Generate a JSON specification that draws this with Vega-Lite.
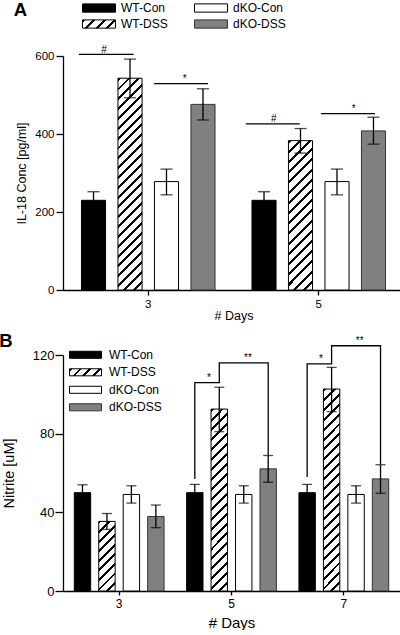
{
"$schema": "https://vega.github.io/schema/vega-lite/v6.json",
"padding": {"left": -1, "top": 0, "right": 0, "bottom": 0},
"spacing": 9,
"config": {
 "view": {"stroke": null},
 "font": "Liberation Sans",
 "axis": {"grid": false, "domainColor": "#000", "tickColor": "#000", "labelColor": "#000", "titleColor": "#000", "titleFontWeight": "normal", "domainWidth": 1.3, "tickWidth": 1.3},
 "legend": {"labelColor": "#000"},
 "title": {"fontWeight": "bold", "fontSize": 18.5, "anchor": "start", "color": "#000"}
},
"datasets": {
 "a_bars": [
  {"day":"3","group":"WT-Con","mean":230,"lo":208,"hi":252},
  {"day":"3","group":"WT-DSS","mean":543,"lo":493,"hi":592},
  {"day":"3","group":"dKO-Con","mean":278,"lo":244,"hi":310},
  {"day":"3","group":"dKO-DSS","mean":476,"lo":436,"hi":516},
  {"day":"5","group":"WT-Con","mean":230,"lo":208,"hi":252},
  {"day":"5","group":"WT-DSS","mean":383,"lo":351,"hi":414},
  {"day":"5","group":"dKO-Con","mean":278,"lo":244,"hi":310},
  {"day":"5","group":"dKO-DSS","mean":408,"lo":374,"hi":443}
 ],
 "a_br": [
  {"day":"3","id":"a1","pos":0.1,"level":604,"ord":0},{"day":"3","id":"a1","pos":1.6,"level":604,"ord":1},
  {"day":"3","id":"a2","pos":2.16,"level":529,"ord":0},{"day":"3","id":"a2","pos":3.64,"level":529,"ord":1},
  {"day":"5","id":"a3","pos":0.0,"level":426,"ord":0},{"day":"5","id":"a3","pos":1.48,"level":426,"ord":1},
  {"day":"5","id":"a4","pos":2.06,"level":452,"ord":0},{"day":"5","id":"a4","pos":3.54,"level":452,"ord":1}
 ],
 "a_lab": [
  {"day":"3","pos":0.79,"level":604,"label":"#"},
  {"day":"3","pos":3.0,"level":529,"label":"*"},
  {"day":"5","pos":0.77,"level":426,"label":"#"},
  {"day":"5","pos":2.96,"level":452,"label":"*"}
 ],
 "b_bars": [
  {"day":"3","group":"WT-Con","mean":50,"lo":46,"hi":54},
  {"day":"3","group":"WT-DSS","mean":35.4,"lo":31.3,"hi":39.4},
  {"day":"3","group":"dKO-Con","mean":49.1,"lo":44.7,"hi":53.5},
  {"day":"3","group":"dKO-DSS","mean":37.9,"lo":32.2,"hi":43.7},
  {"day":"5","group":"WT-Con","mean":50,"lo":46,"hi":54.2},
  {"day":"5","group":"WT-DSS","mean":92.5,"lo":81,"hi":103.6},
  {"day":"5","group":"dKO-Con","mean":49.1,"lo":44.7,"hi":53.5},
  {"day":"5","group":"dKO-DSS","mean":62.1,"lo":55.3,"hi":68.9},
  {"day":"7","group":"WT-Con","mean":50,"lo":46,"hi":54.2},
  {"day":"7","group":"WT-DSS","mean":102.7,"lo":91.2,"hi":113.7},
  {"day":"7","group":"dKO-Con","mean":49.1,"lo":44.7,"hi":53.5},
  {"day":"7","group":"dKO-DSS","mean":57,"lo":49.7,"hi":64.2}
 ],
 "b_br": [
  {"day":"5","id":"b1","pos":0.5,"level":57,"ord":0},{"day":"5","id":"b1","pos":0.5,"level":106,"ord":1},
  {"day":"5","id":"b1","pos":1.5,"level":106,"ord":2},{"day":"5","id":"b1","pos":1.5,"level":116,"ord":3},
  {"day":"5","id":"b1","pos":3.5,"level":116,"ord":4},{"day":"5","id":"b1","pos":3.5,"level":69,"ord":5},
  {"day":"7","id":"b2","pos":0.5,"level":58,"ord":0},{"day":"7","id":"b2","pos":0.5,"level":115.5,"ord":1},
  {"day":"7","id":"b2","pos":1.5,"level":115.5,"ord":2},{"day":"7","id":"b2","pos":1.5,"level":124.7,"ord":3},
  {"day":"7","id":"b2","pos":3.5,"level":124.7,"ord":4},{"day":"7","id":"b2","pos":3.5,"level":64.5,"ord":5}
 ],
 "b_lab": [
  {"day":"5","pos":1.08,"level":106,"label":"*"},
  {"day":"5","pos":2.67,"level":116,"label":"**"},
  {"day":"7","pos":1.06,"level":115.5,"label":"*"},
  {"day":"7","pos":2.65,"level":124.7,"label":"**"}
 ]
},
"resolve": {"scale": {"fill": "independent", "stroke": "independent", "xOffset": "independent"}, "legend": {"fill": "independent", "stroke": "independent"}},
"vconcat": [
 {
  "title": {"text": "A", "dy": 21, "dx": -2},
  "width": 341,
  "height": 234,
  "resolve": {"scale": {"xOffset": "independent"}},
  "layer": [
   {
    "data": {"name": "a_bars"},
    "mark": {"type": "bar", "strokeWidth": 1},
    "encoding": {
     "x": {"field": "day", "type": "nominal", "title": "# Days", "scale": {"paddingInner": 0.144, "paddingOuter": 0.072}, "axis": {"labelAngle": 0, "tickSize": 5, "labelPadding": 3, "labelFontSize": 11.5, "titleFontSize": 12.5, "titlePadding": 0}},
     "xOffset": {"field": "group", "type": "nominal", "scale": {"domain": ["WT-Con","WT-DSS","dKO-Con","dKO-DSS"], "paddingInner": 0.34, "paddingOuter": 0.17}},
     "y": {"field": "mean", "type": "quantitative", "title": "IL-18 Conc [pg/ml]", "scale": {"domain": [0, 600], "nice": false}, "axis": {"values": [0,100,200,300,400,500,600], "tickSize": 7, "labelPadding": 2, "labelFontSize": 11.5, "titleFontSize": 12.5, "titlePadding": 6}},
     "stroke": {
      "field": "group", "type": "nominal",
      "scale": {"domain": ["WT-Con","dKO-Con","WT-DSS","dKO-DSS"], "range": ["#000000","#000000","#000000","#333333"]},
      "legend": {"title": null, "values": ["WT-Con","WT-DSS","dKO-Con","dKO-DSS"], "orient": "none", "legendX": 19, "legendY": -54, "columns": 2, "columnPadding": 26, "rowPadding": 4, "symbolType": "M-1,-0.25H1V0.25H-1Z", "symbolSize": 1089, "symbolStrokeWidth": 1, "clipHeight": 12, "labelFontSize": 12, "labelOffset": 5, "padding": 0}
     },
     "fill": {
      "field": "group", "type": "nominal", "legend": null,
      "scale": {"domain": ["WT-Con","WT-DSS","dKO-Con","dKO-DSS"], "range": ["#000000","#ffffff","#ffffff","#808080"]},
      "condition": {"test": "datum.group === 'WT-DSS'", "value": {"expr": "datum.value === 'WT-Con' ? '#000000' : datum.value === 'dKO-Con' ? '#ffffff' : datum.value === 'dKO-DSS' ? '#808080' : datum.day === '3' ? {gradient:'linear',x1:0,y1:0,x2:0.1251,y2:1.0996,stops:[{offset:0,color:'#000'},{offset:0.0125,color:'#000'},{offset:0.0125,color:'#fff'},{offset:0.0417,color:'#fff'},{offset:0.0417,color:'#000'},{offset:0.0542,color:'#000'},{offset:0.0542,color:'#fff'},{offset:0.0833,color:'#fff'},{offset:0.0833,color:'#000'},{offset:0.0958,color:'#000'},{offset:0.0958,color:'#fff'},{offset:0.125,color:'#fff'},{offset:0.125,color:'#000'},{offset:0.1375,color:'#000'},{offset:0.1375,color:'#fff'},{offset:0.1667,color:'#fff'},{offset:0.1667,color:'#000'},{offset:0.1792,color:'#000'},{offset:0.1792,color:'#fff'},{offset:0.2083,color:'#fff'},{offset:0.2083,color:'#000'},{offset:0.2208,color:'#000'},{offset:0.2208,color:'#fff'},{offset:0.25,color:'#fff'},{offset:0.25,color:'#000'},{offset:0.2625,color:'#000'},{offset:0.2625,color:'#fff'},{offset:0.2917,color:'#fff'},{offset:0.2917,color:'#000'},{offset:0.3042,color:'#000'},{offset:0.3042,color:'#fff'},{offset:0.3333,color:'#fff'},{offset:0.3333,color:'#000'},{offset:0.3458,color:'#000'},{offset:0.3458,color:'#fff'},{offset:0.375,color:'#fff'},{offset:0.375,color:'#000'},{offset:0.3875,color:'#000'},{offset:0.3875,color:'#fff'},{offset:0.4167,color:'#fff'},{offset:0.4167,color:'#000'},{offset:0.4292,color:'#000'},{offset:0.4292,color:'#fff'},{offset:0.4583,color:'#fff'},{offset:0.4583,color:'#000'},{offset:0.4708,color:'#000'},{offset:0.4708,color:'#fff'},{offset:0.5,color:'#fff'},{offset:0.5,color:'#000'},{offset:0.5125,color:'#000'},{offset:0.5125,color:'#fff'},{offset:0.5417,color:'#fff'},{offset:0.5417,color:'#000'},{offset:0.5542,color:'#000'},{offset:0.5542,color:'#fff'},{offset:0.5833,color:'#fff'},{offset:0.5833,color:'#000'},{offset:0.5958,color:'#000'},{offset:0.5958,color:'#fff'},{offset:0.625,color:'#fff'},{offset:0.625,color:'#000'},{offset:0.6375,color:'#000'},{offset:0.6375,color:'#fff'},{offset:0.6667,color:'#fff'},{offset:0.6667,color:'#000'},{offset:0.6792,color:'#000'},{offset:0.6792,color:'#fff'},{offset:0.7083,color:'#fff'},{offset:0.7083,color:'#000'},{offset:0.7208,color:'#000'},{offset:0.7208,color:'#fff'},{offset:0.75,color:'#fff'},{offset:0.75,color:'#000'},{offset:0.7625,color:'#000'},{offset:0.7625,color:'#fff'},{offset:0.7917,color:'#fff'},{offset:0.7917,color:'#000'},{offset:0.8042,color:'#000'},{offset:0.8042,color:'#fff'},{offset:0.8333,color:'#fff'},{offset:0.8333,color:'#000'},{offset:0.8458,color:'#000'},{offset:0.8458,color:'#fff'},{offset:0.875,color:'#fff'},{offset:0.875,color:'#000'},{offset:0.8875,color:'#000'},{offset:0.8875,color:'#fff'},{offset:0.9167,color:'#fff'},{offset:0.9167,color:'#000'},{offset:0.9292,color:'#000'},{offset:0.9292,color:'#fff'},{offset:0.9583,color:'#fff'},{offset:0.9583,color:'#000'},{offset:0.9708,color:'#000'},{offset:0.9708,color:'#fff'},{offset:1,color:'#fff'}]} : datum.day === '5' ? {gradient:'linear',x1:0,y1:0,x2:0.1826,y2:1.1319,stops:[{offset:0,color:'#000'},{offset:0.0176,color:'#000'},{offset:0.0176,color:'#fff'},{offset:0.0588,color:'#fff'},{offset:0.0588,color:'#000'},{offset:0.0764,color:'#000'},{offset:0.0764,color:'#fff'},{offset:0.1176,color:'#fff'},{offset:0.1176,color:'#000'},{offset:0.1352,color:'#000'},{offset:0.1352,color:'#fff'},{offset:0.1765,color:'#fff'},{offset:0.1765,color:'#000'},{offset:0.1941,color:'#000'},{offset:0.1941,color:'#fff'},{offset:0.2353,color:'#fff'},{offset:0.2353,color:'#000'},{offset:0.2529,color:'#000'},{offset:0.2529,color:'#fff'},{offset:0.2941,color:'#fff'},{offset:0.2941,color:'#000'},{offset:0.3117,color:'#000'},{offset:0.3117,color:'#fff'},{offset:0.3529,color:'#fff'},{offset:0.3529,color:'#000'},{offset:0.3705,color:'#000'},{offset:0.3705,color:'#fff'},{offset:0.4118,color:'#fff'},{offset:0.4118,color:'#000'},{offset:0.4294,color:'#000'},{offset:0.4294,color:'#fff'},{offset:0.4706,color:'#fff'},{offset:0.4706,color:'#000'},{offset:0.4882,color:'#000'},{offset:0.4882,color:'#fff'},{offset:0.5294,color:'#fff'},{offset:0.5294,color:'#000'},{offset:0.547,color:'#000'},{offset:0.547,color:'#fff'},{offset:0.5882,color:'#fff'},{offset:0.5882,color:'#000'},{offset:0.6058,color:'#000'},{offset:0.6058,color:'#fff'},{offset:0.6471,color:'#fff'},{offset:0.6471,color:'#000'},{offset:0.6647,color:'#000'},{offset:0.6647,color:'#fff'},{offset:0.7059,color:'#fff'},{offset:0.7059,color:'#000'},{offset:0.7235,color:'#000'},{offset:0.7235,color:'#fff'},{offset:0.7647,color:'#fff'},{offset:0.7647,color:'#000'},{offset:0.7823,color:'#000'},{offset:0.7823,color:'#fff'},{offset:0.8235,color:'#fff'},{offset:0.8235,color:'#000'},{offset:0.8411,color:'#000'},{offset:0.8411,color:'#fff'},{offset:0.8824,color:'#fff'},{offset:0.8824,color:'#000'},{offset:0.9,color:'#000'},{offset:0.9,color:'#fff'},{offset:0.9412,color:'#fff'},{offset:0.9412,color:'#000'},{offset:0.9588,color:'#000'},{offset:0.9588,color:'#fff'},{offset:1,color:'#fff'}]} : {gradient:'linear',x1:0,y1:0,x2:1.1765,y2:0.2941,stops:[{offset:0,color:'#000'},{offset:0.075,color:'#000'},{offset:0.075,color:'#fff'},{offset:0.25,color:'#fff'},{offset:0.25,color:'#000'},{offset:0.325,color:'#000'},{offset:0.325,color:'#fff'},{offset:0.5,color:'#fff'},{offset:0.5,color:'#000'},{offset:0.575,color:'#000'},{offset:0.575,color:'#fff'},{offset:0.75,color:'#fff'},{offset:0.75,color:'#000'},{offset:0.825,color:'#000'},{offset:0.825,color:'#fff'},{offset:1,color:'#fff'}]}"}}
     }
    }
   },
   {
    "data": {"name": "a_bars"},
    "mark": {"type": "rule", "color": "#000", "strokeWidth": 1.3},
    "encoding": {
     "x": {"field": "day", "type": "nominal", "title": "# Days"},
     "xOffset": {"field": "group", "type": "nominal", "scale": {"domain": ["WT-Con","WT-DSS","dKO-Con","dKO-DSS"], "paddingInner": 0.34, "paddingOuter": 0.17}},
     "y": {"field": "lo", "type": "quantitative", "title": "IL-18 Conc [pg/ml]"},
     "y2": {"field": "hi"}
    }
   },
   {
    "data": {"name": "a_bars"},
    "mark": {"type": "tick", "color": "#000", "size": 12, "thickness": 1.3},
    "encoding": {
     "x": {"field": "day", "type": "nominal", "title": "# Days"},
     "xOffset": {"field": "group", "type": "nominal", "scale": {"domain": ["WT-Con","WT-DSS","dKO-Con","dKO-DSS"], "paddingInner": 0.34, "paddingOuter": 0.17}},
     "y": {"field": "hi", "type": "quantitative", "title": "IL-18 Conc [pg/ml]"}
    }
   },
   {
    "data": {"name": "a_bars"},
    "mark": {"type": "tick", "color": "#000", "size": 12, "thickness": 1.3},
    "encoding": {
     "x": {"field": "day", "type": "nominal", "title": "# Days"},
     "xOffset": {"field": "group", "type": "nominal", "scale": {"domain": ["WT-Con","WT-DSS","dKO-Con","dKO-DSS"], "paddingInner": 0.34, "paddingOuter": 0.17}},
     "y": {"field": "lo", "type": "quantitative", "title": "IL-18 Conc [pg/ml]"}
    }
   },
   {
    "data": {"name": "a_br"},
    "mark": {"type": "line", "color": "#000", "strokeWidth": 1.3},
    "encoding": {
     "x": {"field": "day", "type": "nominal", "title": "# Days"},
     "xOffset": {"field": "pos", "type": "quantitative", "scale": {"domain": [0, 4], "nice": false, "zero": false}},
     "y": {"field": "level", "type": "quantitative", "title": "IL-18 Conc [pg/ml]"},
     "detail": {"field": "id"},
     "order": {"field": "ord"}
    }
   },
   {
    "data": {"name": "a_lab"},
    "mark": {"type": "text", "fontSize": 10, "baseline": "alphabetic", "dy": -1.5, "color": "#000"},
    "encoding": {
     "x": {"field": "day", "type": "nominal", "title": "# Days"},
     "xOffset": {"field": "pos", "type": "quantitative", "scale": {"domain": [0, 4], "nice": false, "zero": false}},
     "y": {"field": "level", "type": "quantitative", "title": "IL-18 Conc [pg/ml]"},
     "text": {"field": "label"}
    }
   }
  ]
 },
 {
  "title": {"text": "B", "dy": 18, "dx": -2},
  "width": 337,
  "height": 236,
  "resolve": {"scale": {"xOffset": "independent"}},
  "layer": [
   {
    "data": {"name": "b_bars"},
    "mark": {"type": "bar", "strokeWidth": 1},
    "encoding": {
     "x": {"field": "day", "type": "nominal", "title": "# Days", "scale": {"paddingInner": 0.129, "paddingOuter": 0.0645}, "axis": {"labelAngle": 0, "tickSize": 4, "labelPadding": 3, "labelFontSize": 12, "titleFontSize": 15, "titlePadding": 6}},
     "xOffset": {"field": "group", "type": "nominal", "scale": {"domain": ["WT-Con","WT-DSS","dKO-Con","dKO-DSS"], "paddingInner": 0.33, "paddingOuter": 0.165}},
     "y": {"field": "mean", "type": "quantitative", "title": "Nitrite [uM]", "scale": {"domain": [0, 120], "nice": false}, "axis": {"values": [0,20,40,60,80,100,120], "tickSize": 8, "labelPadding": 1, "labelFontSize": 13, "titleFontSize": 14.5, "titlePadding": 16}},
     "stroke": {
      "field": "group", "type": "nominal",
      "scale": {"domain": ["WT-Con","dKO-Con","WT-DSS","dKO-DSS"], "range": ["#000000","#000000","#000000","#333333"]},
      "legend": {"title": null, "values": ["WT-Con","WT-DSS","dKO-Con","dKO-DSS"], "orient": "none", "legendX": 6, "legendY": -6.2, "columns": 1, "rowPadding": 5.5, "symbolType": "M-1,-0.22H1V0.22H-1Z", "symbolSize": 1024, "symbolStrokeWidth": 1, "clipHeight": 12, "labelFontSize": 12, "labelOffset": 7, "padding": 0}
     },
     "fill": {
      "field": "group", "type": "nominal", "legend": null,
      "scale": {"domain": ["WT-Con","WT-DSS","dKO-Con","dKO-DSS"], "range": ["#000000","#ffffff","#ffffff","#808080"]},
      "condition": {"test": "datum.group === 'WT-DSS'", "value": {"expr": "datum.value === 'WT-Con' ? '#000000' : datum.value === 'dKO-Con' ? '#ffffff' : datum.value === 'dKO-DSS' ? '#808080' : datum.day === '3' ? {gradient:'linear',x1:0,y1:0,x2:0.2773,y2:1.1712,stops:[{offset:0,color:'#000'},{offset:0.0333,color:'#000'},{offset:0.0333,color:'#fff'},{offset:0.1111,color:'#fff'},{offset:0.1111,color:'#000'},{offset:0.1444,color:'#000'},{offset:0.1444,color:'#fff'},{offset:0.2222,color:'#fff'},{offset:0.2222,color:'#000'},{offset:0.2555,color:'#000'},{offset:0.2555,color:'#fff'},{offset:0.3333,color:'#fff'},{offset:0.3333,color:'#000'},{offset:0.3666,color:'#000'},{offset:0.3666,color:'#fff'},{offset:0.4444,color:'#fff'},{offset:0.4444,color:'#000'},{offset:0.4777,color:'#000'},{offset:0.4777,color:'#fff'},{offset:0.5556,color:'#fff'},{offset:0.5556,color:'#000'},{offset:0.5889,color:'#000'},{offset:0.5889,color:'#fff'},{offset:0.6667,color:'#fff'},{offset:0.6667,color:'#000'},{offset:0.7,color:'#000'},{offset:0.7,color:'#fff'},{offset:0.7778,color:'#fff'},{offset:0.7778,color:'#000'},{offset:0.8111,color:'#000'},{offset:0.8111,color:'#fff'},{offset:0.8889,color:'#fff'},{offset:0.8889,color:'#000'},{offset:0.9222,color:'#000'},{offset:0.9222,color:'#fff'},{offset:1,color:'#fff'}]} : datum.day === '5' ? {gradient:'linear',x1:0,y1:0,x2:0.098,y2:1.0817,stops:[{offset:0,color:'#000'},{offset:0.015,color:'#000'},{offset:0.015,color:'#fff'},{offset:0.05,color:'#fff'},{offset:0.05,color:'#000'},{offset:0.065,color:'#000'},{offset:0.065,color:'#fff'},{offset:0.1,color:'#fff'},{offset:0.1,color:'#000'},{offset:0.115,color:'#000'},{offset:0.115,color:'#fff'},{offset:0.15,color:'#fff'},{offset:0.15,color:'#000'},{offset:0.165,color:'#000'},{offset:0.165,color:'#fff'},{offset:0.2,color:'#fff'},{offset:0.2,color:'#000'},{offset:0.215,color:'#000'},{offset:0.215,color:'#fff'},{offset:0.25,color:'#fff'},{offset:0.25,color:'#000'},{offset:0.265,color:'#000'},{offset:0.265,color:'#fff'},{offset:0.3,color:'#fff'},{offset:0.3,color:'#000'},{offset:0.315,color:'#000'},{offset:0.315,color:'#fff'},{offset:0.35,color:'#fff'},{offset:0.35,color:'#000'},{offset:0.365,color:'#000'},{offset:0.365,color:'#fff'},{offset:0.4,color:'#fff'},{offset:0.4,color:'#000'},{offset:0.415,color:'#000'},{offset:0.415,color:'#fff'},{offset:0.45,color:'#fff'},{offset:0.45,color:'#000'},{offset:0.465,color:'#000'},{offset:0.465,color:'#fff'},{offset:0.5,color:'#fff'},{offset:0.5,color:'#000'},{offset:0.515,color:'#000'},{offset:0.515,color:'#fff'},{offset:0.55,color:'#fff'},{offset:0.55,color:'#000'},{offset:0.565,color:'#000'},{offset:0.565,color:'#fff'},{offset:0.6,color:'#fff'},{offset:0.6,color:'#000'},{offset:0.615,color:'#000'},{offset:0.615,color:'#fff'},{offset:0.65,color:'#fff'},{offset:0.65,color:'#000'},{offset:0.665,color:'#000'},{offset:0.665,color:'#fff'},{offset:0.7,color:'#fff'},{offset:0.7,color:'#000'},{offset:0.715,color:'#000'},{offset:0.715,color:'#fff'},{offset:0.75,color:'#fff'},{offset:0.75,color:'#000'},{offset:0.765,color:'#000'},{offset:0.765,color:'#fff'},{offset:0.8,color:'#fff'},{offset:0.8,color:'#000'},{offset:0.815,color:'#000'},{offset:0.815,color:'#fff'},{offset:0.85,color:'#fff'},{offset:0.85,color:'#000'},{offset:0.865,color:'#000'},{offset:0.865,color:'#fff'},{offset:0.9,color:'#fff'},{offset:0.9,color:'#000'},{offset:0.915,color:'#000'},{offset:0.915,color:'#fff'},{offset:0.95,color:'#fff'},{offset:0.95,color:'#000'},{offset:0.965,color:'#000'},{offset:0.965,color:'#fff'},{offset:1,color:'#fff'}]} : datum.day === '7' ? {gradient:'linear',x1:0,y1:0,x2:0.0876,y2:1.0744,stops:[{offset:0,color:'#000'},{offset:0.0136,color:'#000'},{offset:0.0136,color:'#fff'},{offset:0.0455,color:'#fff'},{offset:0.0455,color:'#000'},{offset:0.0591,color:'#000'},{offset:0.0591,color:'#fff'},{offset:0.0909,color:'#fff'},{offset:0.0909,color:'#000'},{offset:0.1045,color:'#000'},{offset:0.1045,color:'#fff'},{offset:0.1364,color:'#fff'},{offset:0.1364,color:'#000'},{offset:0.15,color:'#000'},{offset:0.15,color:'#fff'},{offset:0.1818,color:'#fff'},{offset:0.1818,color:'#000'},{offset:0.1954,color:'#000'},{offset:0.1954,color:'#fff'},{offset:0.2273,color:'#fff'},{offset:0.2273,color:'#000'},{offset:0.2409,color:'#000'},{offset:0.2409,color:'#fff'},{offset:0.2727,color:'#fff'},{offset:0.2727,color:'#000'},{offset:0.2863,color:'#000'},{offset:0.2863,color:'#fff'},{offset:0.3182,color:'#fff'},{offset:0.3182,color:'#000'},{offset:0.3318,color:'#000'},{offset:0.3318,color:'#fff'},{offset:0.3636,color:'#fff'},{offset:0.3636,color:'#000'},{offset:0.3772,color:'#000'},{offset:0.3772,color:'#fff'},{offset:0.4091,color:'#fff'},{offset:0.4091,color:'#000'},{offset:0.4227,color:'#000'},{offset:0.4227,color:'#fff'},{offset:0.4545,color:'#fff'},{offset:0.4545,color:'#000'},{offset:0.4681,color:'#000'},{offset:0.4681,color:'#fff'},{offset:0.5,color:'#fff'},{offset:0.5,color:'#000'},{offset:0.5136,color:'#000'},{offset:0.5136,color:'#fff'},{offset:0.5455,color:'#fff'},{offset:0.5455,color:'#000'},{offset:0.5591,color:'#000'},{offset:0.5591,color:'#fff'},{offset:0.5909,color:'#fff'},{offset:0.5909,color:'#000'},{offset:0.6045,color:'#000'},{offset:0.6045,color:'#fff'},{offset:0.6364,color:'#fff'},{offset:0.6364,color:'#000'},{offset:0.65,color:'#000'},{offset:0.65,color:'#fff'},{offset:0.6818,color:'#fff'},{offset:0.6818,color:'#000'},{offset:0.6954,color:'#000'},{offset:0.6954,color:'#fff'},{offset:0.7273,color:'#fff'},{offset:0.7273,color:'#000'},{offset:0.7409,color:'#000'},{offset:0.7409,color:'#fff'},{offset:0.7727,color:'#fff'},{offset:0.7727,color:'#000'},{offset:0.7863,color:'#000'},{offset:0.7863,color:'#fff'},{offset:0.8182,color:'#fff'},{offset:0.8182,color:'#000'},{offset:0.8318,color:'#000'},{offset:0.8318,color:'#fff'},{offset:0.8636,color:'#fff'},{offset:0.8636,color:'#000'},{offset:0.8772,color:'#000'},{offset:0.8772,color:'#fff'},{offset:0.9091,color:'#fff'},{offset:0.9091,color:'#000'},{offset:0.9227,color:'#000'},{offset:0.9227,color:'#fff'},{offset:0.9545,color:'#fff'},{offset:0.9545,color:'#000'},{offset:0.9681,color:'#000'},{offset:0.9681,color:'#fff'},{offset:1,color:'#fff'}]} : {gradient:'linear',x1:0,y1:0,x2:1.163,y2:0.254,stops:[{offset:0,color:'#000'},{offset:0.075,color:'#000'},{offset:0.075,color:'#fff'},{offset:0.25,color:'#fff'},{offset:0.25,color:'#000'},{offset:0.325,color:'#000'},{offset:0.325,color:'#fff'},{offset:0.5,color:'#fff'},{offset:0.5,color:'#000'},{offset:0.575,color:'#000'},{offset:0.575,color:'#fff'},{offset:0.75,color:'#fff'},{offset:0.75,color:'#000'},{offset:0.825,color:'#000'},{offset:0.825,color:'#fff'},{offset:1,color:'#fff'}]}"}}
     }
    }
   },
   {
    "data": {"name": "b_bars"},
    "mark": {"type": "rule", "color": "#000", "strokeWidth": 1.3},
    "encoding": {
     "x": {"field": "day", "type": "nominal", "title": "# Days"},
     "xOffset": {"field": "group", "type": "nominal", "scale": {"domain": ["WT-Con","WT-DSS","dKO-Con","dKO-DSS"], "paddingInner": 0.33, "paddingOuter": 0.165}},
     "y": {"field": "lo", "type": "quantitative", "title": "Nitrite [uM]"},
     "y2": {"field": "hi"}
    }
   },
   {
    "data": {"name": "b_bars"},
    "mark": {"type": "tick", "color": "#000", "size": 10, "thickness": 1.3},
    "encoding": {
     "x": {"field": "day", "type": "nominal", "title": "# Days"},
     "xOffset": {"field": "group", "type": "nominal", "scale": {"domain": ["WT-Con","WT-DSS","dKO-Con","dKO-DSS"], "paddingInner": 0.33, "paddingOuter": 0.165}},
     "y": {"field": "hi", "type": "quantitative", "title": "Nitrite [uM]"}
    }
   },
   {
    "data": {"name": "b_bars"},
    "mark": {"type": "tick", "color": "#000", "size": 10, "thickness": 1.3},
    "encoding": {
     "x": {"field": "day", "type": "nominal", "title": "# Days"},
     "xOffset": {"field": "group", "type": "nominal", "scale": {"domain": ["WT-Con","WT-DSS","dKO-Con","dKO-DSS"], "paddingInner": 0.33, "paddingOuter": 0.165}},
     "y": {"field": "lo", "type": "quantitative", "title": "Nitrite [uM]"}
    }
   },
   {
    "data": {"name": "b_br"},
    "mark": {"type": "line", "color": "#000", "strokeWidth": 1.3},
    "encoding": {
     "x": {"field": "day", "type": "nominal", "title": "# Days"},
     "xOffset": {"field": "pos", "type": "quantitative", "scale": {"domain": [0, 4], "nice": false, "zero": false}},
     "y": {"field": "level", "type": "quantitative", "title": "Nitrite [uM]"},
     "detail": {"field": "id"},
     "order": {"field": "ord"}
    }
   },
   {
    "data": {"name": "b_lab"},
    "mark": {"type": "text", "fontSize": 10, "baseline": "alphabetic", "dy": -1.5, "color": "#000"},
    "encoding": {
     "x": {"field": "day", "type": "nominal", "title": "# Days"},
     "xOffset": {"field": "pos", "type": "quantitative", "scale": {"domain": [0, 4], "nice": false, "zero": false}},
     "y": {"field": "level", "type": "quantitative", "title": "Nitrite [uM]"},
     "text": {"field": "label"}
    }
   }
  ]
 }
]
}
